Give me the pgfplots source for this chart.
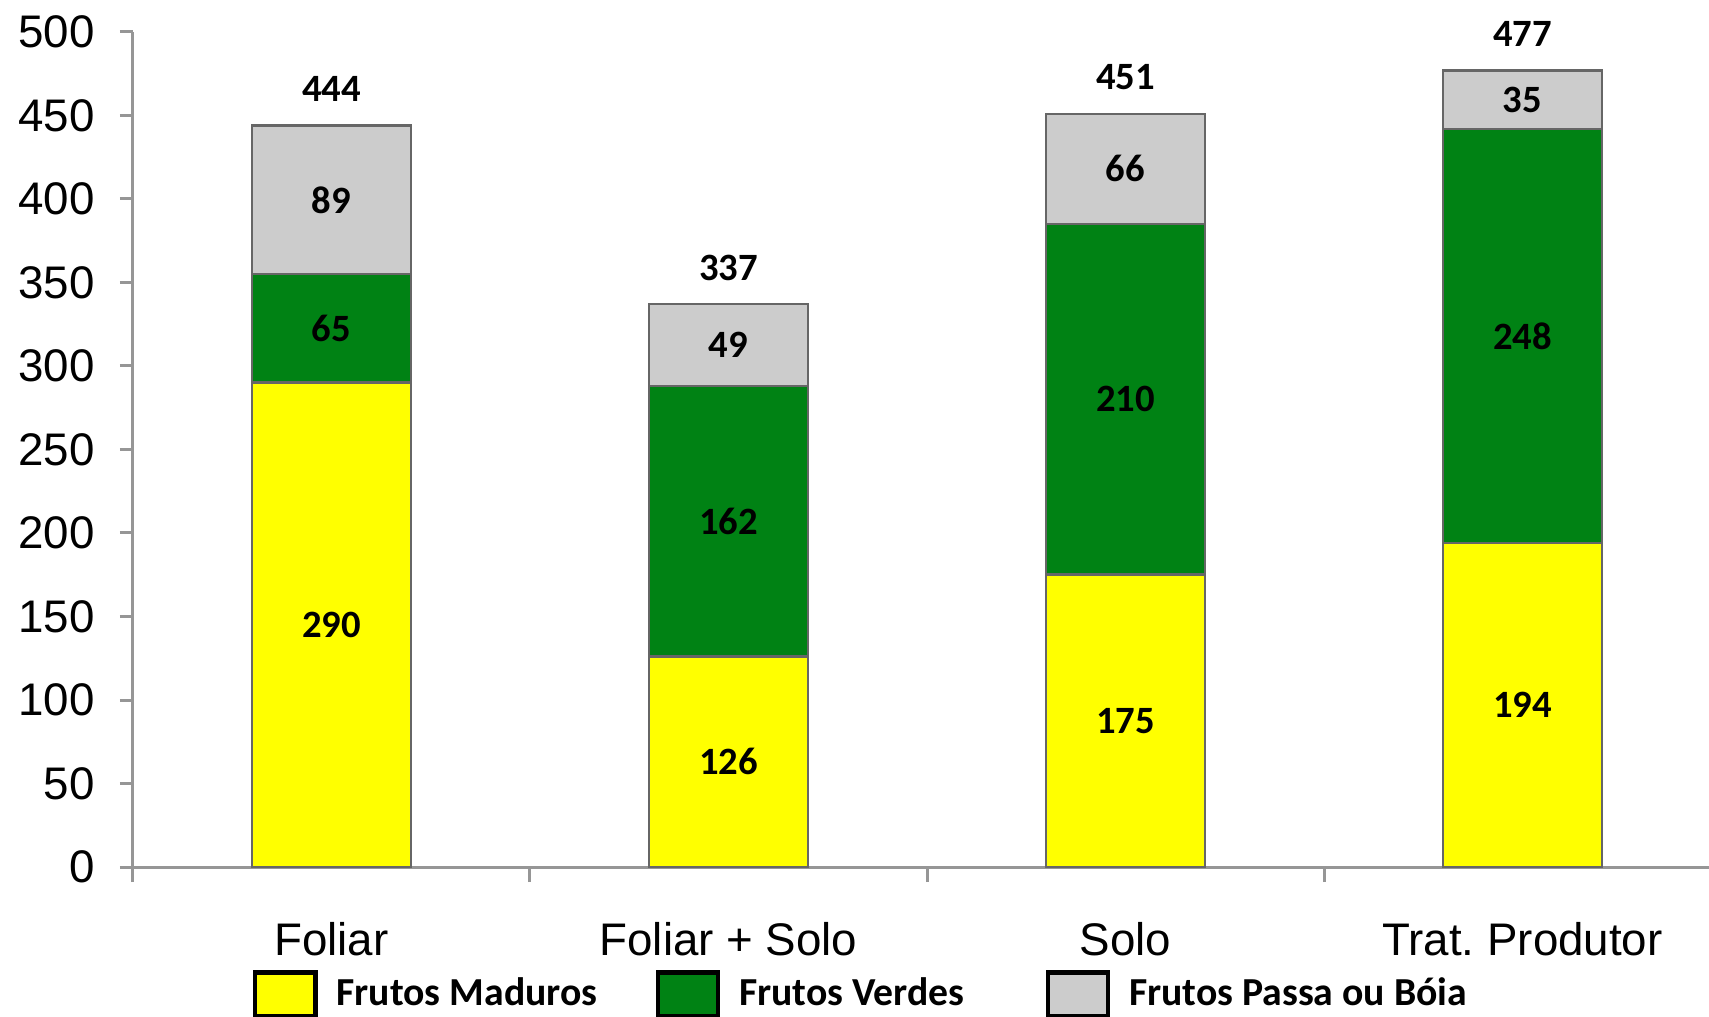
\documentclass[border=0pt]{standalone}
\usepackage{pgfplots}
\pgfplotsset{compat=1.18}
\usepackage{pgfplotstable}
\usepackage{fontspec}
\setmainfont{Liberation Sans}
\newfontfamily\calibri{Carlito}

\definecolor{madu}{RGB}{255,255,0}
\definecolor{verde}{RGB}{0,130,20}
\definecolor{passa}{RGB}{204,204,204}
\definecolor{eixo}{RGB}{150,150,150}

\pgfplotstableread{
x mad ver pas tot
0 290 65  89 444
1 126 162 49 337
2 175 210 66 451
3 194 248 35 477
}\frutos

\pgfplotsset{
  mesma geometria/.style={
    scale only axis,
    width=158.8mm, height=83.5mm,
    xmin=-0.5, xmax=3.5, ymin=0, ymax=500,
    /pgf/number format/assume math mode=true,
  },
}

\begin{document}
\frenchspacing
\begin{tikzpicture}
\begin{axis}[
  mesma geometria,
  ybar stacked,
  bar width=15.9mm,
  axis x line*=bottom, axis y line*=left,
  axis line style={eixo, line width=0.3mm},
  xtick={0,1,2,3},
  xticklabels={Foliar, Foliar + Solo, Solo, Trat. Produtor},
  minor xtick={-0.5,0.5,1.5,2.5,3.5},
  major x tick style={draw=none},
  minor tick length=1.5mm,
  major tick length=1.3mm,
  tick align=outside,
  tick style={eixo, line width=0.3mm},
  ytick={0,50,...,500},
  tick label style={font=\fontsize{13}{15}\selectfont},
  xticklabel style={yshift=-3mm},
  yticklabel style={xshift=-1.3mm},
  clip=false,
  legend columns=3,
  legend style={draw=none, fill=none, inner sep=0pt, outer sep=0pt,
    at={(axis description cs:0,0)}, anchor=north west, xshift=12mm, yshift=-10.3mm,
    font=\calibri\bfseries\fontsize{11.3}{13}\selectfont,
    /tikz/column 2/.style={column sep=5.1mm},
    /tikz/column 4/.style={column sep=7.4mm},
    /tikz/every odd column/.append style={column sep=1.2mm}},
  legend image code/.code={\draw[#1,draw=black,line width=0.45mm] (0mm,-2.2mm) rectangle (6mm,2.2mm);},
  bar lbl/.style={
    nodes near coords,
    point meta=explicit,
    nodes near coords align={center},
    every node near coord/.append style={font=\calibri\bfseries\fontsize{11}{13}\selectfont, text=black, anchor=center}},
]
\coordinate (O) at (rel axis cs:0,0);
\addplot[fill=madu, draw=black!60, line width=0.25mm, bar lbl]
  table[x=x, y=mad, meta=mad] {\frutos};
\addplot[fill=verde, draw=black!60, line width=0.25mm, bar lbl]
  table[x=x, y=ver, meta=ver] {\frutos};
\addplot[fill=passa, draw=black!60, line width=0.25mm, bar lbl]
  table[x=x, y=pas, meta=pas] {\frutos};
\legend{Frutos Maduros, Frutos Verdes, Frutos Passa ou Bóia}
\end{axis}
% totais acima das barras
\begin{axis}[mesma geometria, hide axis, clip=false]
\addplot[only marks, mark=none,
  nodes near coords, point meta=explicit,
  every node near coord/.append style={font=\calibri\bfseries\fontsize{11}{13}\selectfont, text=black, anchor=south, inner sep=0pt, yshift=2.3mm}]
  table[x=x, y=tot, meta=tot] {\frutos};
\end{axis}
\pgfresetboundingbox
\path[use as bounding box] ([shift={(-13.3mm,-14.9mm)}]O) rectangle ([shift={(157.6mm,86.7mm)}]O);
\end{tikzpicture}
\end{document}
